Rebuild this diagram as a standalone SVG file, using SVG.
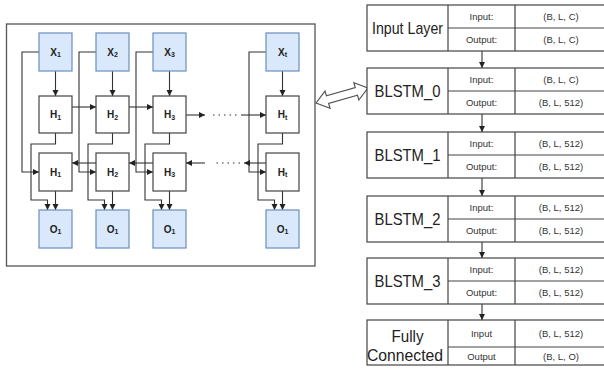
<svg xmlns="http://www.w3.org/2000/svg" width="604" height="369" viewBox="0 0 604 369">
<style>
.panel{fill:#fff;stroke:#555;stroke-width:1.3}
.bx{fill:#dae8fc;stroke:#6c8ebf;stroke-width:1.2}
.hx{fill:#fff;stroke:#444;stroke-width:1.2}
.lb{font-family:"Liberation Sans",Arial,sans-serif;font-weight:bold;font-size:10px;fill:#222;text-anchor:middle;dominant-baseline:central}
.sb{font-size:7px}
.ln{fill:none;stroke:#333;stroke-width:1.1}
.ar{marker-end:url(#ah)}
.dot{fill:none;stroke:#333;stroke-width:1.2;stroke-dasharray:1.5 4}
.tb{fill:#fff;stroke:#444;stroke-width:1.2}
.tl{fill:none;stroke:#444;stroke-width:1.2}
.big{font-family:"Liberation Sans",Arial,sans-serif;font-size:17px;fill:#222;text-anchor:middle;dominant-baseline:central}
.sm{font-family:"Liberation Sans",Arial,sans-serif;font-size:9.5px;fill:#333;text-anchor:middle;dominant-baseline:central}
</style>
<defs>
<marker id="ah" markerUnits="userSpaceOnUse" markerWidth="7" markerHeight="7" refX="6" refY="3" orient="auto">
<path d="M0,0 L6,3 L0,6 z" fill="#222"/>
</marker>
</defs>
<rect width="604" height="369" fill="#fff"/>
<rect class="panel" x="6.5" y="24" width="308.5" height="242"/>

<g id="connectors">
<path class="ln ar" d="M55.5,71 V96"/>
<path class="ln ar" d="M39,52 H22 V172 H39"/>
<path class="ln ar" d="M55.5,133 V144 H31 V200 H47.5 V210"/>
<path class="ln ar" d="M55.5,191 V210"/>
<path class="ln ar" d="M112.5,71 V96"/>
<path class="ln ar" d="M96,52 H79 V172 H96"/>
<path class="ln ar" d="M112.5,133 V144 H88 V200 H104.5 V210"/>
<path class="ln ar" d="M112.5,191 V210"/>
<path class="ln ar" d="M169.5,71 V96"/>
<path class="ln ar" d="M153,52 H136 V172 H153"/>
<path class="ln ar" d="M169.5,133 V144 H145 V200 H161.5 V210"/>
<path class="ln ar" d="M169.5,191 V210"/>
<path class="ln ar" d="M282.5,71 V96"/>
<path class="ln ar" d="M266,52 H249 V172 H266"/>
<path class="ln ar" d="M282.5,133 V144 H258 V200 H274.5 V210"/>
<path class="ln ar" d="M282.5,191 V210"/>
<path class="ln ar" d="M72,107 H96"/>
<path class="ln ar" d="M129,107 H153"/>
<path class="ln ar" d="M186,115 H205"/>
<path class="dot" d="M213,115 H240"/>
<path class="ln ar" d="M241,115 H266"/>
<path class="ln ar" d="M96,163 H72"/>
<path class="ln ar" d="M153,163 H129"/>
<path class="ln ar" d="M266,163 H244"/>
<path class="dot" d="M240,163 H213"/>
<path class="ln ar" d="M205,163 H186"/>
<path class="ln ar" d="M482,51 V68"/>
<path class="ln ar" d="M482,114 V132"/>
<path class="ln ar" d="M482,178 V196"/>
<path class="ln ar" d="M482,242 V258"/>
<path class="ln ar" d="M482,304 V320"/>
</g>

<g id="link-arrow">
<polygon transform="translate(316,103) rotate(-16.1)" points="0,0 12,-9 12,-4 42,-4 42,-9 54,0 42,9 42,4 12,4 12,9" fill="#fff" stroke="#555" stroke-width="1.2" stroke-linejoin="miter"/>
</g>

<g id="x1"><rect class="bx" x="39" y="33" width="33" height="38"/><text class="lb" x="55.5" y="52">X<tspan class="sb" dy="2">1</tspan></text></g>
<g id="x2"><rect class="bx" x="96" y="33" width="33" height="38"/><text class="lb" x="112.5" y="52">X<tspan class="sb" dy="2">2</tspan></text></g>
<g id="x3"><rect class="bx" x="153" y="33" width="33" height="38"/><text class="lb" x="169.5" y="52">X<tspan class="sb" dy="2">3</tspan></text></g>
<g id="xt"><rect class="bx" x="266" y="33" width="33" height="38"/><text class="lb" x="282.5" y="52">X<tspan class="sb" dy="2">t</tspan></text></g>

<g id="hf1"><rect class="hx" x="39" y="96" width="33" height="37"/><text class="lb" x="55.5" y="114.5">H<tspan class="sb" dy="2">1</tspan></text></g>
<g id="hf2"><rect class="hx" x="96" y="96" width="33" height="37"/><text class="lb" x="112.5" y="114.5">H<tspan class="sb" dy="2">2</tspan></text></g>
<g id="hf3"><rect class="hx" x="153" y="96" width="33" height="37"/><text class="lb" x="169.5" y="114.5">H<tspan class="sb" dy="2">3</tspan></text></g>
<g id="hft"><rect class="hx" x="266" y="96" width="33" height="37"/><text class="lb" x="282.5" y="114.5">H<tspan class="sb" dy="2">t</tspan></text></g>

<g id="hb1"><rect class="hx" x="39" y="153" width="33" height="38"/><text class="lb" x="55.5" y="172">H<tspan class="sb" dy="2">1</tspan></text></g>
<g id="hb2"><rect class="hx" x="96" y="153" width="33" height="38"/><text class="lb" x="112.5" y="172">H<tspan class="sb" dy="2">2</tspan></text></g>
<g id="hb3"><rect class="hx" x="153" y="153" width="33" height="38"/><text class="lb" x="169.5" y="172">H<tspan class="sb" dy="2">3</tspan></text></g>
<g id="hbt"><rect class="hx" x="266" y="153" width="33" height="38"/><text class="lb" x="282.5" y="172">H<tspan class="sb" dy="2">t</tspan></text></g>

<g id="o1"><rect class="bx" x="39" y="210" width="33" height="38"/><text class="lb" x="55.5" y="229">O<tspan class="sb" dy="2">1</tspan></text></g>
<g id="o2"><rect class="bx" x="96" y="210" width="33" height="38"/><text class="lb" x="112.5" y="229">O<tspan class="sb" dy="2">1</tspan></text></g>
<g id="o3"><rect class="bx" x="153" y="210" width="33" height="38"/><text class="lb" x="169.5" y="229">O<tspan class="sb" dy="2">1</tspan></text></g>
<g id="ot"><rect class="bx" x="266" y="210" width="33" height="38"/><text class="lb" x="282.5" y="229">O<tspan class="sb" dy="2">1</tspan></text></g>

<g id="t-input">
<rect class="tb" x="367" y="5" width="240" height="46"/>
<path class="tl" d="M448,5 V51 M515,5 V51 M448,28 H607"/>
<text class="big" x="407.5" y="28" font-size="16" textLength="71" lengthAdjust="spacingAndGlyphs">Input Layer</text>
<text class="sm" x="481.5" y="16.5">Input:</text><text class="sm" x="561" y="16.5">(B, L, C)</text>
<text class="sm" x="481.5" y="39.5">Output:</text><text class="sm" x="561" y="39.5">(B, L, C)</text>
</g>
<g id="t-blstm0">
<rect class="tb" x="367" y="68" width="240" height="46"/>
<path class="tl" d="M448,68 V114 M515,68 V114 M448,91 H607"/>
<text class="big" x="407.5" y="91" font-size="18" textLength="66" lengthAdjust="spacingAndGlyphs">BLSTM_0</text>
<text class="sm" x="481.5" y="79.5">Input:</text><text class="sm" x="561" y="79.5">(B, L, C)</text>
<text class="sm" x="481.5" y="102.5">Output:</text><text class="sm" x="561" y="102.5">(B, L, 512)</text>
</g>
<g id="t-blstm1">
<rect class="tb" x="367" y="132" width="240" height="46"/>
<path class="tl" d="M448,132 V178 M515,132 V178 M448,155 H607"/>
<text class="big" x="407.5" y="155" font-size="18" textLength="66" lengthAdjust="spacingAndGlyphs">BLSTM_1</text>
<text class="sm" x="481.5" y="143.5">Input:</text><text class="sm" x="561" y="143.5">(B, L, 512)</text>
<text class="sm" x="481.5" y="166.5">Output:</text><text class="sm" x="561" y="166.5">(B, L, 512)</text>
</g>
<g id="t-blstm2">
<rect class="tb" x="367" y="196" width="240" height="46"/>
<path class="tl" d="M448,196 V242 M515,196 V242 M448,219 H607"/>
<text class="big" x="407.5" y="219" font-size="18" textLength="66" lengthAdjust="spacingAndGlyphs">BLSTM_2</text>
<text class="sm" x="481.5" y="207.5">Input:</text><text class="sm" x="561" y="207.5">(B, L, 512)</text>
<text class="sm" x="481.5" y="230.5">Output:</text><text class="sm" x="561" y="230.5">(B, L, 512)</text>
</g>
<g id="t-blstm3">
<rect class="tb" x="367" y="258" width="240" height="46"/>
<path class="tl" d="M448,258 V304 M515,258 V304 M448,281 H607"/>
<text class="big" x="407.5" y="281" font-size="18" textLength="66" lengthAdjust="spacingAndGlyphs">BLSTM_3</text>
<text class="sm" x="481.5" y="269.5">Input:</text><text class="sm" x="561" y="269.5">(B, L, 512)</text>
<text class="sm" x="481.5" y="292.5">Output:</text><text class="sm" x="561" y="292.5">(B, L, 512)</text>
</g>
<g id="t-fc">
<rect class="tb" x="367" y="320" width="240" height="45"/>
<path class="tl" d="M448,320 V365 M515,320 V365 M448,347 H607"/>
<text class="big" x="407.5" y="336" font-size="17" textLength="32" lengthAdjust="spacingAndGlyphs">Fully</text>
<text class="big" x="405" y="355" font-size="17" textLength="76" lengthAdjust="spacingAndGlyphs">Connected</text>
<text class="sm" x="481.5" y="333.5">Input</text><text class="sm" x="561" y="333.5">(B, L, 512)</text>
<text class="sm" x="481.5" y="356">Output</text><text class="sm" x="561" y="356">(B, L, O)</text>
</g>
</svg>
